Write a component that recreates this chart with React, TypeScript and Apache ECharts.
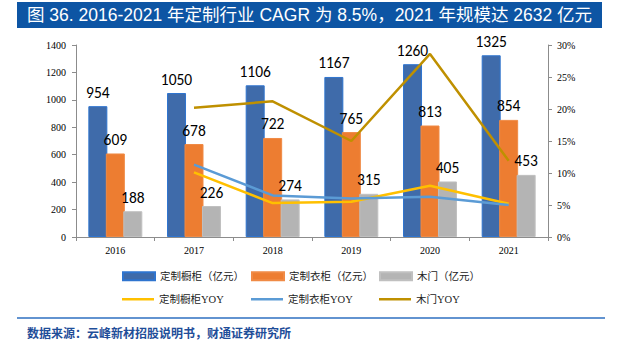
import React, { useEffect, useRef } from "react";
import * as echarts from "echarts";

const years = ["2016", "2017", "2018", "2019", "2020", "2021"];
const cabinet = [954, 1050, 1106, 1167, 1260, 1325];
const wardrobe = [609, 678, 722, 765, 813, 854];
const door = [188, 226, 274, 315, 405, 453];
const cabinetYoy = [null, 10.1, 5.3, 5.5, 8.0, 5.2];
const wardrobeYoy = [null, 11.3, 6.5, 6.0, 6.3, 5.0];
const doorYoy = [null, 20.2, 21.2, 15.0, 28.6, 11.9];

const names = [
  "定制橱柜（亿元）",
  "定制衣柜（亿元）",
  "木门（亿元）",
  "定制橱柜YOY",
  "定制衣柜YOY",
  "木门YOY",
];
const colors = ["#3F6BAA", "#ED7D31", "#B4B4B4", "#FFC000", "#5B9BD5", "#BF9000"];

const titleText = "图 36. 2016-2021 年定制行业 CAGR 为 8.5%，2021 年规模达 2632 亿元";
const sourceText = "数据来源：云峰新材招股说明书，财通证券研究所";

const serif = "'Liberation Serif', 'Times New Roman', 'Noto Sans CJK SC', serif";
const labelFont = "Carlito, 'Open Sans', 'Liberation Sans', sans-serif";

export default function App() {
  const ref = useRef<HTMLDivElement>(null);
  useEffect(() => {
    document.body.style.margin = "0";
    const chart = echarts.init(ref.current!, null, { renderer: "svg" });
    const barLabel = {
      show: true,
      position: "top",
      distance: 6,
      fontFamily: labelFont,
      fontSize: 15.5,
      fontWeight: "normal",
      color: "#000",
    };
    const legendPos = [
      [122, 271],
      [251, 271],
      [379, 271],
      [122, 294],
      [251, 294],
      [379, 294],
    ];
    const legends = names.map((n, i) => ({
      data: [n],
      left: legendPos[i][0],
      top: legendPos[i][1],
      icon: "rect",
      itemWidth: 32,
      itemHeight: i < 3 ? 8 : 2.5,
      itemGap: 4,
      padding: 0,
      textStyle: { fontFamily: serif, fontSize: 10.5, color: "#222" },
    }));
    const barBorders = ["#2E74CF", "#F08A45", "#C0C0C0"];
    const barSeries = [cabinet, wardrobe, door].map((d, i) => ({
      name: names[i],
      type: "bar",
      data: d,
      barWidth: 19,
      barGap: "-8%",
      itemStyle: { color: colors[i], borderColor: barBorders[i], borderWidth: 1 },
      label: barLabel,
      z: 2,
    }));
    const lineSeries = [cabinetYoy, wardrobeYoy, doorYoy].map((d, i) => ({
      name: names[i + 3],
      type: "line",
      yAxisIndex: 1,
      data: d,
      showSymbol: false,
      symbol: "none",
      lineStyle: { color: colors[i + 3], width: 2.5 },
      itemStyle: { color: colors[i + 3] },
      z: 5,
    }));
    chart.setOption({
      animation: false,
      color: colors,
      grid: { left: 76, right: 72, top: 45, bottom: 104 },
      legend: legends,
      xAxis: {
        type: "category",
        data: years,
        axisLine: { lineStyle: { color: "#8C8C8C", width: 1 } },
        axisTick: { show: true, length: 4, lineStyle: { color: "#8C8C8C" } },
        axisLabel: { fontFamily: serif, fontSize: 10, color: "#000", margin: 8 },
      },
      yAxis: [
        {
          type: "value",
          min: 0,
          max: 1400,
          interval: 200,
          splitLine: { show: false },
          axisLine: { show: true, lineStyle: { color: "#8C8C8C" } },
          axisTick: { show: true, length: 4, lineStyle: { color: "#8C8C8C" } },
          axisLabel: {
            fontFamily: serif,
            fontSize: 10,
            color: "#000",
            margin: 10,
            formatter: (v: number) => String(v),
          },
        },
        {
          type: "value",
          min: 0,
          max: 30,
          interval: 5,
          position: "right",
          splitLine: { show: false },
          axisLine: { show: true, lineStyle: { color: "#8C8C8C" } },
          axisTick: { show: true, length: 4, lineStyle: { color: "#8C8C8C" } },
          axisLabel: {
            fontFamily: serif,
            fontSize: 10,
            color: "#000",
            margin: 9,
            formatter: "{value}%",
          },
        },
      ],
      series: [...barSeries, ...lineSeries],
      graphic: [
        {
          type: "rect",
          shape: { x: 17, y: 2, width: 585, height: 26 },
          style: { fill: "#0D55A4" },
          silent: true,
        },
        {
          type: "text",
          x: 27,
          y: 15,
          style: {
            text: titleText,
            fill: "#fff",
            font: "17.5px 'Liberation Sans', 'Noto Sans CJK SC', sans-serif",
            verticalAlign: "middle",
          },
        },
        {
          type: "line",
          shape: { x1: 17, y1: 318, x2: 605, y2: 318 },
          style: { stroke: "#2E6FC0", lineWidth: 1.5 },
        },
        {
          type: "text",
          x: 27,
          y: 332,
          style: {
            text: sourceText,
            fill: "#1F4E99",
            font: "bold 12px 'Noto Sans CJK SC', sans-serif",
            verticalAlign: "middle",
          },
        },
      ],
    });
    return () => chart.dispose();
  }, []);
  return <div ref={ref} style={{ width: 620, height: 341 }} />;
}
